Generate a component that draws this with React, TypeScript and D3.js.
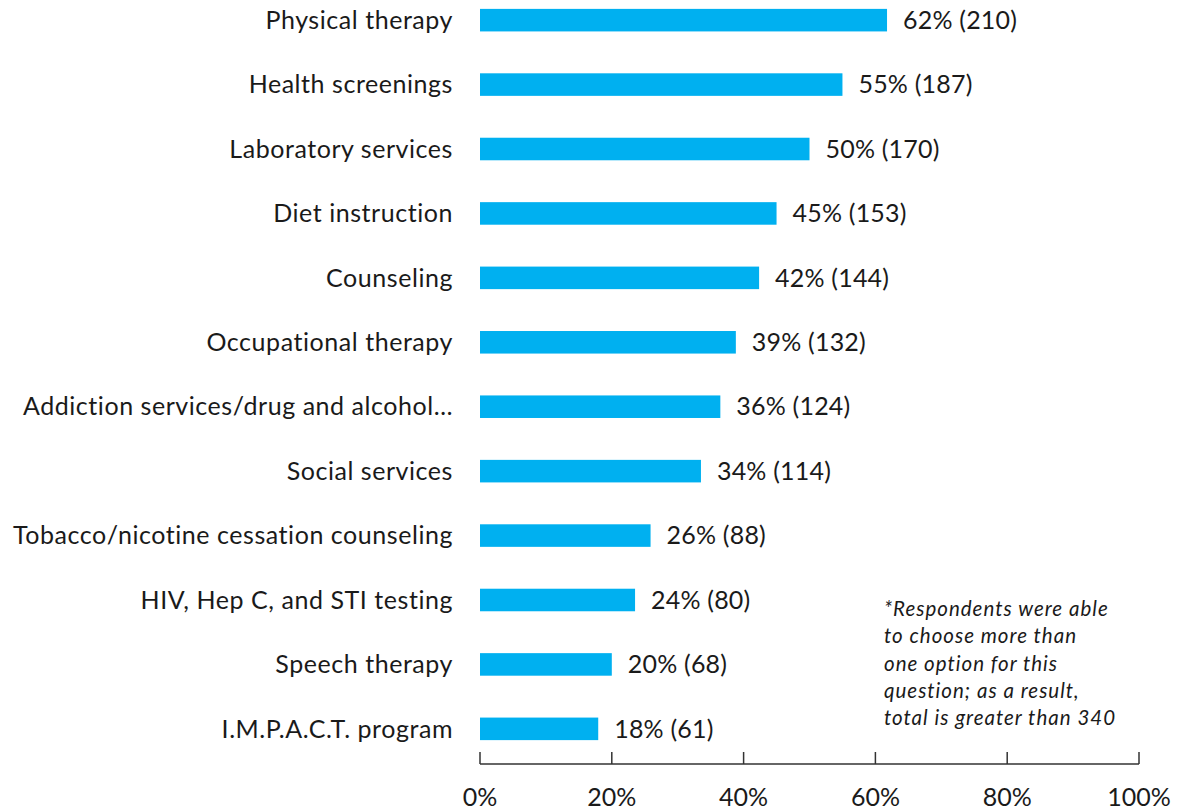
import React from "react";
import * as d3 from "d3";

const categories = [
  "Physical therapy",
  "Health screenings",
  "Laboratory services",
  "Diet instruction",
  "Counseling",
  "Occupational therapy",
  "Addiction services/drug and alcohol…",
  "Social services",
  "Tobacco/nicotine cessation counseling",
  "HIV, Hep C, and STI testing",
  "Speech therapy",
  "I.M.P.A.C.T. program",
];
const percents = [62, 55, 50, 45, 42, 39, 36, 34, 26, 24, 20, 18];
const counts = [210, 187, 170, 153, 144, 132, 124, 114, 88, 80, 68, 61];
const totalRespondents = 340;
const xTicks = [0, 20, 40, 60, 80, 100];
const noteLines = [
  "*Respondents were able",
  "to choose more than",
  "one option for this",
  "question; as a result,",
  "total is greater than 340",
];

const W = 1179;
const H = 811;
const FONT = "Lato, 'Open Sans', sans-serif";

export default function App() {
  const x = d3.scaleLinear().domain([0, 100]).range([480, 1139]);
  const y = d3
    .scaleBand<string>()
    .domain(categories)
    .range([-33, 782])
    .padding(0.65);
  const axisY = 764;

  return (
    <svg
      width={W}
      height={H}
      style={{ position: "absolute", left: 0, top: 0, background: "#fff" }}
      fontFamily={FONT}
    >
      {categories.map((c, i) => {
        const yy = y(c)!;
        const bw = y.bandwidth();
        const share = (counts[i] / totalRespondents) * 100;
        return (
          <g key={c}>
            <rect
              x={x(0)}
              y={yy}
              width={x(share) - x(0)}
              height={bw}
              fill="#00B0F0"
            />
            <text
              x={453}
              y={yy + bw / 2}
              dy="0.35em"
              textAnchor="end"
              fontSize={25}
              letterSpacing={0.55}
              fill="#1a1a1a"
            >
              {c}
            </text>
            <text
              x={x(share) + 16}
              y={yy + bw / 2}
              dy="0.35em"
              fontSize={25}
              letterSpacing={0.2}
              fill="#1a1a1a"
            >
              {`${percents[i]}% (${counts[i]})`}
            </text>
          </g>
        );
      })}
      <line x1={x(0)} x2={x(100)} y1={axisY} y2={axisY} stroke="#333" strokeWidth={1.5} />
      {xTicks.map((t) => (
        <g key={t}>
          <line x1={x(t)} x2={x(t)} y1={axisY} y2={axisY - 12} stroke="#333" strokeWidth={1.5} />
          <text
            x={x(t)}
            y={806}
            textAnchor="middle"
            fontSize={25}
            fill="#1a1a1a"
          >
            {`${t}%`}
          </text>
        </g>
      ))}
      {noteLines.map((l, i) => (
        <text
          key={i}
          x={884}
          y={609 + i * 27.3}
          dy="0.35em"
          fontSize={20.5}
          letterSpacing={1}
          fontStyle="italic"
          fill="#1a1a1a"
        >
          {l}
        </text>
      ))}
    </svg>
  );
}
